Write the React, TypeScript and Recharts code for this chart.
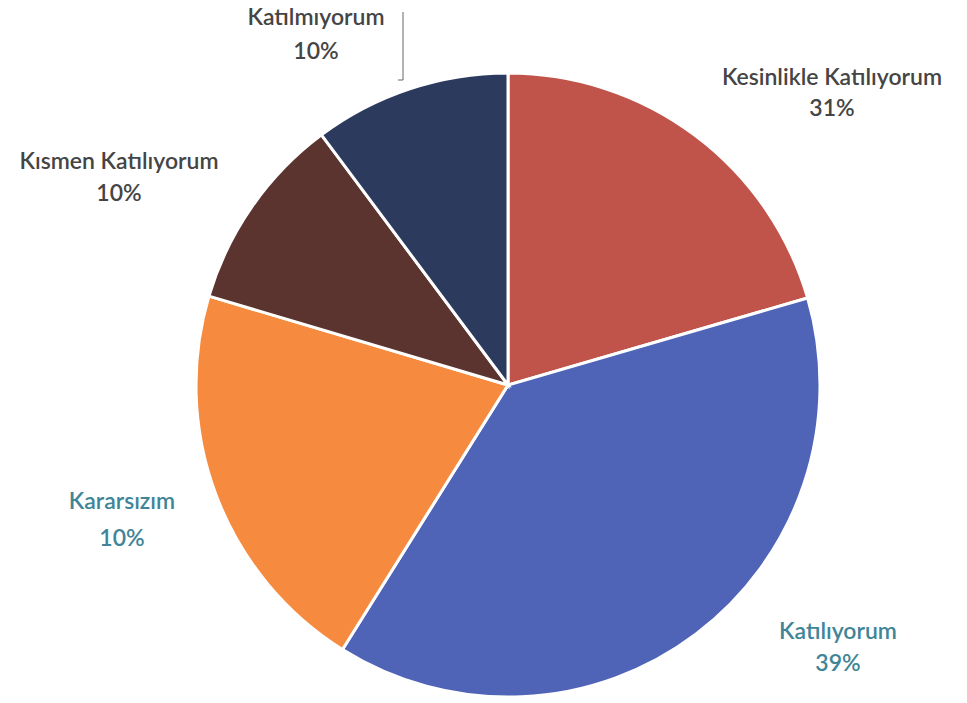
import React from "react";
import { PieChart, Pie, Cell } from "recharts";

const categories = [
  "Kesinlikle Katılıyorum",
  "Katılıyorum",
  "Kararsızım",
  "Kısmen Katılıyorum",
  "Katılmıyorum",
];
// slice sizes as drawn
const values = [20.5, 38.4, 20.7, 10.2, 10.2];
// percentages as printed on the labels
const labelTexts = ["31%", "39%", "10%", "10%", "10%"];
const colors = ["#C0544A", "#4F64B6", "#F68B3F", "#5C342F", "#2C3A5E"];
const textColors = ["#454545", "#3f8598", "#3f8598", "#454545", "#454545"];

// label centres (layout only)
const labelPos = [
  { x: 832, y1: 76, y2: 107 },
  { x: 838, y1: 630, y2: 662 },
  { x: 122, y1: 500, y2: 537 },
  { x: 119, y1: 160, y2: 192 },
  { x: 316, y1: 16, y2: 50 },
];

const data = categories.map((name, i) => ({ name, value: values[i] }));

const font = "Lato, 'Open Sans', sans-serif";

const renderLabel = (props: any) => {
  const i = props.index;
  const p = labelPos[i];
  return (
    <g key={`lbl-${i}`}>
      <text
        x={p.x}
        y={p.y1}
        textAnchor="middle"
        dominantBaseline="central"
        fill={textColors[i]}
        fontSize={23}
        fontWeight={600}
        fontFamily={font}
      >
        {categories[i]}
      </text>
      <text
        x={p.x}
        y={p.y2}
        textAnchor="middle"
        dominantBaseline="central"
        fill={textColors[i]}
        fontSize={23}
        fontWeight={600}
        fontFamily={font}
      >
        {labelTexts[i]}
      </text>
    </g>
  );
};

export default function App() {
  return (
    <div style={{ position: "absolute", left: 0, top: 0, background: "#fff" }}>
      <PieChart width={967} height={703} margin={{ top: 0, right: 0, bottom: 0, left: 0 }}>
        <polyline points="403,12 403,80 398,80" fill="none" stroke="#666" strokeWidth={1} />
        <Pie
          data={data}
          dataKey="value"
          nameKey="name"
          cx={508}
          cy={385}
          outerRadius={312}
          startAngle={90}
          endAngle={-270}
          stroke="#ffffff"
          strokeWidth={3}
          label={renderLabel}
          labelLine={false}
          isAnimationActive={false}
        >
          {data.map((d, i) => (
            <Cell key={d.name} fill={colors[i]} />
          ))}
        </Pie>
      </PieChart>
    </div>
  );
}
